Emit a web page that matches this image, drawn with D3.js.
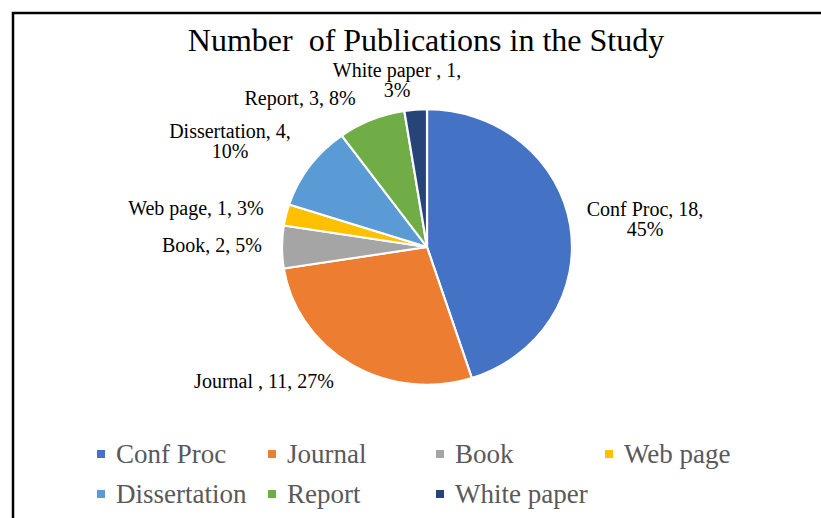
<!DOCTYPE html>
<html>
<head>
<meta charset="utf-8">
<script src="https://cdn.jsdelivr.net/npm/d3@7"></script>
<style>
  body { margin: 0; background: #fff; }
  text { font-family: "Liberation Serif", "Times New Roman", serif; }
</style>
</head>
<body>
<svg id="chart" width="821" height="518"></svg>
<script>
// data
var categories = ["Conf Proc", "Journal ", "Book", "Web page", "Dissertation", "Report", "White paper "];
var counts = [18, 11, 2, 1, 4, 3, 1];
var percents = ["45%", "27%", "5%", "3%", "10%", "8%", "3%"];
var colors = ["#4472C4", "#ED7D31", "#A5A5A5", "#FFC000", "#5B9BD5", "#70AD47", "#264478"];

// where each data label sits, relative to the pie centre (first baseline)
var labelLayout = [
  { dx: 218, dy: -31, wrap: true },
  { dx: -163, dy: 141, wrap: false },
  { dx: -215, dy: 5, wrap: false },
  { dx: -231, dy: -32, wrap: false },
  { dx: -197, dy: -109, wrap: true },
  { dx: -127, dy: -142, wrap: false },
  { dx: -30, dy: -170, wrap: true }
];

var svg = d3.select("#chart");

// outer frame
svg.append("rect")
  .attr("x", 13).attr("y", 13)
  .attr("width", 830).attr("height", 530)
  .attr("fill", "none")
  .attr("stroke", "#000")
  .attr("stroke-width", 2.5);

svg.append("text")
  .attr("x", 426).attr("y", 51)
  .attr("text-anchor", "middle")
  .style("font-size", "32px")
  .style("white-space", "pre")
  .attr("fill", "#000")
  .text("Number  of Publications in the Study");

var cx = 427, cy = 247, r = 145;

var pie = d3.pie().sort(null).value(function(d) { return d; });
var arc = d3.arc().innerRadius(0).outerRadius(r);
var arcs = pie(counts);

var g = svg.append("g")
  .attr("transform", "translate(" + cx + "," + cy + ") scale(1,0.95)");

g.selectAll("path")
  .data(arcs)
  .enter().append("path")
    .attr("d", arc)
    .attr("fill", function(d, i) { return colors[i]; })
    .attr("stroke", "#fff")
    .attr("stroke-width", 2.2)
    .attr("stroke-linejoin", "round");

// data labels
var labels = svg.append("g");
arcs.forEach(function(d, i) {
  var lay = labelLayout[i];
  var first = categories[i] + ", " + counts[i] + ",";
  var lines = lay.wrap ? [first, percents[i]] : [first + " " + percents[i]];
  var t = labels.append("text")
    .attr("text-anchor", "middle")
    .attr("fill", "#000")
    .style("font-size", "20px");
  lines.forEach(function(line, j) {
    t.append("tspan")
      .attr("x", cx + lay.dx)
      .attr("y", cy + lay.dy + j * 20)
      .style("white-space", "pre")
      .text(line);
  });
});

// legend
var legendCols = [97, 268, 436, 605];
var legendRows = [463, 503];
var legend = svg.append("g");
categories.forEach(function(name, i) {
  var x = legendCols[i % 4];
  var y = legendRows[Math.floor(i / 4)];
  legend.append("rect")
    .attr("x", x).attr("y", y - 13)
    .attr("width", 8).attr("height", 8)
    .attr("fill", colors[i]);
  legend.append("text")
    .attr("x", x + 19).attr("y", y)
    .attr("fill", "#595959")
    .style("font-size", "27px")
    .text(name.trim());
});
</script>
</body>
</html>
